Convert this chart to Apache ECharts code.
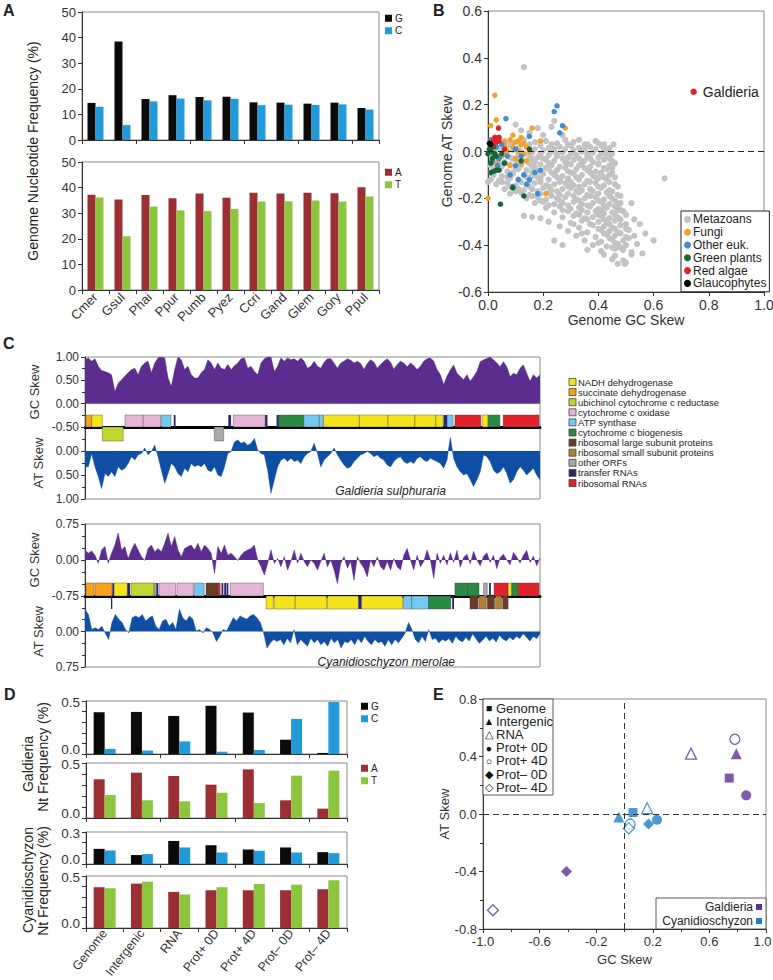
<!DOCTYPE html>
<html>
<head>
<meta charset="utf-8">
<script src="https://cdn.jsdelivr.net/npm/echarts@6/dist/echarts.min.js"></script>
<style>html,body{margin:0;padding:0;background:#fff}#chart{width:773px;height:980px}</style>
</head>
<body>
<div id="chart"></div>
<script>
// ---- A: genome nucleotide frequency (%)
var speciesA = ['Cmer', 'Gsul', 'Phai', 'Ppur', 'Pumb', 'Pyez', 'Ccri', 'Gand', 'Glem', 'Gory', 'Ppul']
var freqG = [14.5, 38.5, 16, 17.5, 16.8, 16.9, 14.7, 14.6, 14.2, 14.6, 12.5]
var freqC = [13, 5.8, 15.1, 16.2, 15.5, 16.1, 13.6, 13.8, 13.7, 13.9, 11.9]
var freqA = [37.2, 35.4, 37.1, 35.8, 37.7, 36, 38, 37.7, 38, 37.8, 40.1]
var freqT = [36.1, 21, 32.6, 31.1, 30.8, 31.7, 34.6, 34.7, 35, 34.6, 36.5]
var ticksA = [0, 50, 10]

// ---- B: genome GC skew vs AT skew
var metazoans = [
  [0.06,0.045],[0.09,0.035],[0.13,0.05],[0.17,0.04],[0.21,0.045],[0.25,0.035],[0.28,0.05],[0.31,0.04],[0.35,0.03],[0.39,0.045],
  [0.03,0.02],[0.07,0.025],[0.11,0.015],[0.14,0.02],[0.19,0.025],[0.22,0.015],[0.26,0.02],[0.30,0.025],[0.33,0.015],[0.37,0.02],[0.41,0.025],[0.44,0.015],
  [0.02,0.0],[0.05,-0.005],[0.09,0.005],[0.12,0.0],[0.16,-0.005],[0.20,0.005],[0.23,0.0],[0.27,-0.005],[0.31,0.005],[0.34,0.0],[0.38,-0.005],[0.42,0.005],[0.45,-0.01],
  [0.04,-0.02],[0.08,-0.025],[0.11,-0.015],[0.15,-0.02],[0.18,-0.025],[0.22,-0.015],[0.25,-0.02],[0.29,-0.025],[0.32,-0.015],[0.36,-0.02],[0.40,-0.025],[0.43,-0.015],
  [0.02,-0.04],[0.06,-0.045],[0.10,-0.035],[0.13,-0.04],[0.17,-0.045],[0.21,-0.035],[0.24,-0.04],[0.28,-0.045],[0.31,-0.035],[0.35,-0.04],[0.38,-0.045],[0.42,-0.035],[0.45,-0.04],
  [0.01,-0.06],[0.05,-0.065],[0.08,-0.055],[0.12,-0.06],[0.16,-0.065],[0.19,-0.055],[0.23,-0.06],[0.26,-0.065],[0.30,-0.055],[0.33,-0.06],[0.37,-0.065],[0.40,-0.055],[0.44,-0.06],
  [0.03,-0.08],[0.07,-0.085],[0.11,-0.075],[0.14,-0.08],[0.18,-0.085],[0.22,-0.075],[0.25,-0.08],[0.29,-0.085],[0.32,-0.075],[0.36,-0.08],[0.39,-0.085],[0.43,-0.075],
  [0.02,-0.10],[0.05,-0.105],[0.09,-0.095],[0.13,-0.10],[0.16,-0.105],[0.20,-0.095],[0.24,-0.10],[0.27,-0.105],[0.31,-0.095],[0.34,-0.10],[0.38,-0.105],[0.41,-0.095],[0.44,-0.10],
  [0.01,-0.12],[0.04,-0.125],[0.08,-0.115],[0.11,-0.12],[0.15,-0.125],[0.19,-0.115],[0.22,-0.12],[0.26,-0.125],[0.29,-0.115],[0.33,-0.12],[0.36,-0.125],[0.40,-0.115],[0.43,-0.12],
  [0.03,-0.14],[0.07,-0.135],[0.10,-0.145],[0.14,-0.14],[0.17,-0.135],[0.21,-0.145],[0.24,-0.14],[0.28,-0.135],[0.31,-0.145],[0.35,-0.14],[0.39,-0.135],[0.42,-0.145],[0.46,-0.14],
  [0.06,-0.16],[0.09,-0.155],[0.13,-0.165],[0.16,-0.16],[0.20,-0.155],[0.23,-0.165],[0.27,-0.16],[0.30,-0.155],[0.34,-0.165],[0.37,-0.16],[0.41,-0.155],[0.44,-0.165],
  [0.08,-0.18],[0.12,-0.175],[0.15,-0.185],[0.19,-0.18],[0.22,-0.175],[0.26,-0.185],[0.29,-0.18],[0.33,-0.175],[0.36,-0.185],[0.40,-0.18],[0.43,-0.175],[0.47,-0.185],
  [0.14,-0.20],[0.18,-0.195],[0.21,-0.205],[0.25,-0.20],[0.28,-0.195],[0.32,-0.205],[0.35,-0.20],[0.39,-0.195],[0.42,-0.205],[0.45,-0.20],
  [0.17,-0.22],[0.20,-0.215],[0.24,-0.225],[0.27,-0.22],[0.31,-0.215],[0.34,-0.225],[0.38,-0.22],[0.41,-0.215],[0.44,-0.225],[0.48,-0.22],
  [0.21,-0.24],[0.26,-0.235],[0.30,-0.245],[0.33,-0.24],[0.37,-0.235],[0.40,-0.245],[0.43,-0.24],[0.46,-0.235],
  [0.24,-0.26],[0.29,-0.255],[0.32,-0.265],[0.36,-0.26],[0.39,-0.255],[0.42,-0.265],[0.45,-0.26],[0.49,-0.255],
  [0.13,-0.275],[0.16,-0.28],[0.19,-0.285],[0.27,-0.28],[0.31,-0.275],[0.35,-0.285],[0.38,-0.28],[0.41,-0.275],[0.44,-0.285],[0.47,-0.28],
  [0.22,-0.30],[0.30,-0.305],[0.34,-0.295],[0.40,-0.30],[0.43,-0.305],[0.46,-0.295],[0.50,-0.31],
  [0.26,-0.32],[0.33,-0.325],[0.38,-0.315],[0.42,-0.32],[0.45,-0.325],[0.48,-0.315],
  [0.29,-0.34],[0.36,-0.345],[0.41,-0.335],[0.44,-0.34],[0.47,-0.345],[0.51,-0.335],[0.57,-0.35],
  [0.32,-0.36],[0.39,-0.365],[0.43,-0.355],[0.46,-0.36],[0.50,-0.365],[0.53,-0.36],
  [0.24,-0.38],[0.35,-0.38],[0.41,-0.385],[0.45,-0.375],[0.49,-0.38],[0.60,-0.38],
  [0.27,-0.40],[0.38,-0.40],[0.43,-0.405],[0.47,-0.395],[0.50,-0.40],[0.54,-0.395],
  [0.36,-0.42],[0.41,-0.425],[0.46,-0.415],[0.49,-0.42],[0.52,-0.43],
  [0.42,-0.44],[0.46,-0.445],[0.52,-0.44],[0.56,-0.435],
  [0.45,-0.46],[0.49,-0.465],[0.50,-0.475],[0.47,-0.48],[0.495,-0.48],
  [0.13,0.36],[0.12,0.09],[0.10,0.115],[0.18,0.10],[0.23,0.105],[0.24,0.13],[0.20,0.07],[0.27,0.07],[0.15,0.08],[0.33,0.05],
  [0.40,0.035],[0.455,0.03],[0.64,-0.115],[0.52,-0.22],[0.55,-0.31],[0.50,-0.27],[0.48,-0.25],[0.53,-0.29],[0.11,-0.16],[0.05,-0.13],
  [0.0,-0.13],[0.02,-0.08],
  [0.08,0.03],[0.15,0.03],[0.23,0.03],[0.29,0.03],[0.36,0.03],[0.42,0.03],
  [0.04,0.01],[0.10,0.01],[0.17,0.01],[0.24,0.01],[0.28,0.01],[0.35,0.01],[0.39,0.01],[0.43,0.01],
  [0.06,-0.01],[0.13,-0.01],[0.19,-0.01],[0.25,-0.01],[0.30,-0.01],[0.36,-0.01],[0.41,-0.01],[0.44,-0.01],
  [0.03,-0.03],[0.09,-0.03],[0.16,-0.03],[0.20,-0.03],[0.27,-0.03],[0.33,-0.03],[0.37,-0.03],[0.44,-0.03],
  [0.04,-0.05],[0.11,-0.05],[0.15,-0.05],[0.22,-0.05],[0.29,-0.05],[0.34,-0.05],[0.40,-0.05],[0.46,-0.05],
  [0.03,-0.07],[0.10,-0.07],[0.17,-0.07],[0.21,-0.07],[0.28,-0.07],[0.35,-0.07],[0.42,-0.07],[0.45,-0.07],
  [0.01,-0.09],[0.09,-0.09],[0.16,-0.09],[0.23,-0.09],[0.30,-0.09],[0.37,-0.09],[0.41,-0.09],[0.45,-0.09],
  [0.07,-0.11],[0.14,-0.11],[0.18,-0.11],[0.25,-0.11],[0.32,-0.11],[0.39,-0.11],[0.42,-0.11],[0.46,-0.11],
  [0.05,-0.13],[0.12,-0.13],[0.19,-0.13],[0.26,-0.13],[0.30,-0.13],[0.37,-0.13],[0.44,-0.13],
  [0.08,-0.15],[0.15,-0.15],[0.22,-0.15],[0.29,-0.15],[0.33,-0.15],[0.40,-0.15],[0.47,-0.15],
  [0.10,-0.17],[0.18,-0.17],[0.25,-0.17],[0.32,-0.17],[0.38,-0.17],[0.45,-0.17],
  [0.16,-0.19],[0.23,-0.19],[0.31,-0.19],[0.37,-0.19],[0.44,-0.19],[0.48,-0.19],
  [0.19,-0.21],[0.26,-0.21],[0.33,-0.21],[0.40,-0.21],[0.46,-0.21],
  [0.22,-0.23],[0.29,-0.23],[0.36,-0.23],[0.42,-0.23],[0.47,-0.23],
  [0.27,-0.25],[0.34,-0.25],[0.41,-0.25],[0.47,-0.25],
  [0.33,-0.27],[0.40,-0.27],[0.46,-0.27],
  [0.36,-0.29],[0.42,-0.29],[0.48,-0.29],
  [0.31,-0.31],[0.37,-0.31],[0.44,-0.31],
  [0.40,-0.33],[0.46,-0.33],[0.50,-0.33],
  [0.34,-0.35],[0.42,-0.35],[0.48,-0.35],
  [0.44,-0.37],[0.51,-0.37],[0.40,-0.39],[0.46,-0.39],[0.45,-0.41],[0.48,-0.41]
]
var fungi = [
  [0.025,0.24],[0.03,0.135],[0.01,0.11],[0.16,0.10],[0.28,0.10],[0.19,0.045],[0.21,-0.18],[0.0,-0.20],
  [0.06,0.04],[0.08,0.05],[0.10,0.04],[0.12,0.03],[0.14,0.02],[0.11,0.0],[0.09,0.02],[0.13,-0.01],[0.07,0.0],
  [0.15,0.0],[0.05,-0.02],[0.10,-0.03],[0.12,-0.05],[0.14,-0.04],[0.08,-0.06],[0.06,0.02],[0.04,0.06],[0.02,0.0],
  [0.03,-0.05],[0.12,0.06],[0.09,0.07],[0.11,0.045],[0.13,0.035]
]
var otherEuk = [
  [0.25,0.195],[0.24,0.17],[0.27,0.11],[0.26,0.08],[0.065,0.14],[0.15,0.065],[0.19,-0.08],[0.17,-0.09],[0.15,-0.12],
  [0.14,-0.14],[0.13,-0.10],[0.11,-0.12],[0.10,-0.06],[0.09,-0.15],[0.18,-0.18],[0.06,-0.05],[0.04,-0.03],[0.02,-0.02],
  [0.01,0.05],[0.03,0.02],[0.05,0.03],[0.07,-0.02],[0.12,-0.02],[0.10,0.01],[0.08,-0.10],[0.035,-0.06],[0.015,-0.04]
]
var greenPlants = [
  [0.045,-0.225],[0.09,-0.155],[0.13,-0.19],[0.12,-0.04],[0.15,0.01],[0.06,-0.05],[0.01,-0.09],[0.02,-0.085],[0.03,-0.08],
  [0.04,-0.08],[0.0,-0.01],[0.01,0.0],[0.02,0.02],[0.03,-0.02],[0.015,-0.03],[0.005,0.01],[0.025,-0.01],[0.01,-0.05],[0.05,-0.01]
]
var redAlgae = [
  [0.745,0.255],[0.02,0.05],[0.025,0.06],[0.03,0.055],[0.035,0.05],[0.04,0.06],[0.03,0.04],[0.02,0.04],[0.04,0.045],
  [0.038,0.10],[0.06,0.01],[0.015,0.03]
]
var glaucophytes = [[0.01,0.03],[0.005,0.035]]

// ---- C: sliding window skews along the mitochondrial genomes
var galGC = [
  0.94,0.98,0.91,0.96,0.80,0.71,0.69,0.66,0.62,0.26, 0.44,0.51,0.59,0.66,0.73,0.76,0.62,0.80,0.87,0.91,
  0.66,0.87,0.98,1.0,0.98,0.55,0.37,0.73,1.0,0.94, 0.73,0.80,0.62,0.55,0.55,0.66,0.73,0.94,0.87,0.73,
  0.87,0.76,0.73,0.84,0.73,0.81,0.87,0.96,0.98,0.76, 0.80,0.69,0.62,0.87,0.96,1.0,1.0,0.69,0.80,0.98,
  0.91,0.98,0.94,0.96,0.91,0.98,0.91,0.76,0.80,0.91, 0.80,0.76,0.89,0.96,0.96,0.87,0.76,0.87,0.91,0.96,
  0.93,0.87,0.91,0.86,0.73,0.86,0.94,0.89,0.76,0.84, 0.91,0.96,0.89,0.74,0.84,0.91,0.87,0.79,0.87,0.81,
  0.73,0.80,0.91,0.96,0.98,0.91,0.73,0.62,0.41,0.59, 0.72,0.83,0.65,0.58,0.51,0.62,0.48,0.58,0.69,0.90,
  0.94,0.97,1.0,0.94,0.87,0.79,0.90,0.79,0.58,0.65, 0.62,0.76,0.83,0.65,0.48,0.62,0.55,0.62
]
var galAT = [
  0.33,0.33,0.05,0.33,0.53,0.78,0.47,0.53,0.43,0.53, 0.33,0.40,0.36,0.26,0.12,0.19,0.08,0.05,-0.06,0.08,
  0.01,-0.12,0.12,0.40,0.67,0.47,0.26,0.33,0.47,0.53, 0.36,0.43,0.26,0.33,0.29,0.33,0.26,0.40,0.43,0.33,
  0.50,0.53,0.33,0.05,0.01,-0.19,-0.23,-0.16,-0.19,-0.12, -0.16,-0.26,-0.02,0.05,0.08,0.40,0.88,0.60,0.33,0.19,
  0.15,0.22,0.15,0.22,0.19,0.26,0.12,0.05,0.01,-0.16, 0.05,0.33,0.19,0.12,0.05,-0.06,0.08,0.19,0.29,0.36,
  0.33,0.22,0.15,0.08,0.05,0.01,0.05,0.12,0.08,0.15, 0.19,0.29,0.33,0.22,0.15,0.12,0.22,0.26,0.22,0.26,
  0.15,0.12,0.19,0.22,0.15,0.19,0.22,0.26,0.36,0.19, -0.28,0.15,0.33,0.43,0.50,0.47,0.60,0.74,0.60,0.43,
  0.08,0.12,0.22,0.40,0.47,0.43,0.33,0.47,0.67,0.60, 0.43,0.33,0.40,0.50,0.43,0.36,0.50,0.60
]
var cyaGC = [
  0.21,0.14,0.19,0.10,-0.07,0.21,0.28,-0.07,0.14,0.31, 0.56,0.21,0.28,0.03,0.21,0.35,0.21,0.07,-0.01,0.24,
  0.31,0.17,0.24,0.17,0.35,0.56,0.28,0.49,0.21,0.07, 0.24,0.28,0.31,0.21,0.35,0.17,0.31,0.24,0.14,-0.28,
  0.28,0.14,0.31,0.10,0.14,0.07,-0.01,0.10,0.17,0.21, 0.24,0.31,0.0,-0.14,-0.31,-0.07,0.21,-0.07,0.03,-0.14,
  0.07,-0.21,-0.03,0.21,-0.07,0.14,-0.03,-0.14,0.0,-0.07, -0.21,-0.03,0.14,-0.14,0.0,-0.21,-0.49,-0.07,0.07,-0.17,
  -0.03,-0.42,0.07,-0.07,-0.17,-0.35,0.0,-0.14,0.07,-0.14, -0.21,-0.03,-0.21,0.03,-0.14,-0.21,0.10,0.24,0.0,-0.21,
  0.10,-0.14,-0.03,0.21,0.0,-0.38,0.14,-0.07,0.10,-0.10, 0.15,-0.05,0.20,-0.15,0.05,0.12,-0.08,0.18,0.0,-0.12,
  0.08,0.15,-0.05,0.10,-0.18,0.05,0.12,0.0,-0.10,0.16, 0.06,-0.06,0.10,0.20,-0.05,0.08,-0.12,0.04
]
var cyaAT = [
  -0.47,-0.36,-0.04,-0.08,-0.04,-0.11,0.03,0.17,-0.19,-0.36, -0.26,-0.19,-0.04,0.03,-0.29,-0.33,-0.29,-0.36,-0.22,-0.29,
  -0.33,-0.11,-0.04,-0.22,-0.26,-0.11,-0.19,-0.04,-0.47,-0.29, -0.22,-0.33,-0.26,-0.01,-0.04,0.03,-0.08,-0.04,0.03,0.21,
  0.10,-0.04,-0.01,-0.15,-0.29,-0.22,-0.33,-0.29,-0.26,-0.33, -0.36,-0.29,-0.19,0.03,0.35,0.24,0.17,0.21,0.17,0.28,
  0.14,0.24,-0.04,0.28,0.17,0.24,0.31,0.14,0.24,0.17, 0.28,0.21,0.31,0.14,0.24,0.17,0.35,0.21,0.24,0.17,
  0.28,0.14,0.24,0.10,0.21,0.28,0.17,0.24,0.21,0.31, 0.17,0.28,0.17,0.24,0.14,0.03,-0.19,-0.04,0.17,0.24,
  0.10,0.21,-0.04,0.17,0.14,0.24,0.17,0.20,0.15,0.25, 0.10,0.18,0.22,0.12,0.20,0.05,0.15,0.25,0.18,0.10,
  0.20,0.14,0.22,0.08,0.16,0.20,0.12,0.18,0.10,0.15, 0.05,0.12,0.20,0.10,0.15,0.05
]
var geneTypes = ['NADH dehydrogenase', 'succinate dehydrogenase', 'ubichinol cytochrome c reductase',
  'cytochrome c oxidase', 'ATP synthase', 'cytochrome c biogenesis', 'ribosomal large subunit proteins',
  'ribosomal small subunit proteins', 'other ORFs', 'transfer RNAs', 'ribosomal RNAs']
// [start %, end %, strand, gene type]
var galGenes = [
  [0.15,1.47,1,1],[1.47,3.8,1,0],[3.8,8.4,-1,2],[8.8,12.8,1,3],[12.8,16.6,1,3],[16.8,18.9,1,4],[19.5,19.9,1,9],
  [28.4,30.5,-1,8],[31.5,32.1,1,9],[32.6,39.6,1,3],[39.6,40.1,1,9],[42.1,42.6,1,9],[42.6,48.1,1,5],[48.1,51.5,1,4],
  [51.5,52.4,1,4],[52.4,60.3,1,0],[60.3,66.6,1,0],[66.6,72.5,1,0],[72.5,77.1,1,0],[77.1,78.7,1,0],[78.8,79.6,1,9],
  [79.6,80.9,1,4],[81.3,87.0,1,10],[87.3,88.6,1,0],[88.6,91.2,1,5],[91.9,99.8,1,10]
]
var cyaGenes = [
  [0.2,2.0,1,1],[2.2,5.9,1,1],[6.0,6.4,1,9],[6.4,9.3,1,0],[9.3,9.9,1,9],[10.1,15.2,1,2],[15.2,15.7,1,8],[15.7,16.1,1,9],
  [16.3,19.9,1,3],[20.2,23.8,1,3],[24.0,26.2,1,4],[26.6,29.3,1,6],[29.3,29.7,1,10],[30.0,30.4,1,9],[30.6,31.0,1,9],
  [31.1,31.5,1,9],[31.9,39.2,1,3],
  [5.7,6.0,-1,9],[39.8,41.4,-1,0],[41.6,46.2,-1,0],[46.2,53.1,-1,0],[53.3,60.1,-1,0],[60.1,60.8,-1,9],[60.8,69.8,-1,0],
  [70.0,71.8,-1,4],[71.8,75.5,-1,4],[75.5,80.4,-1,5],[80.7,81.1,-1,9],
  [81.3,84.2,1,5],[84.2,86.6,1,5],[87.6,88.4,1,8],[88.8,89.2,1,9],[84.6,86.4,-1,6],[86.6,88.2,-1,7],[88.4,90.0,-1,6],
  [90.2,91.6,-1,7],[91.8,93.0,-1,6],[89.9,93.0,1,10],[93.0,93.8,1,0],[93.8,95.2,1,5],[95.2,99.8,1,10]
]

// ---- D: strand specific nucleotide frequencies
var ntCats = ['Genome', 'Intergenic', 'RNA', 'Prot+ 0D', 'Prot+ 4D', 'Prot\u2013 0D', 'Prot\u2013 4D']
var galG = [0.394, 0.397, 0.359, 0.455, 0.391, 0.135, 0.01]
var galC = [0.048, 0.032, 0.119, 0.022, 0.038, 0.33, 0.49]
var galA = [0.352, 0.412, 0.382, 0.303, 0.442, 0.161, 0.085]
var galT = [0.209, 0.161, 0.152, 0.230, 0.136, 0.385, 0.430]
var cyaG = [0.142, 0.084, 0.216, 0.176, 0.136, 0.155, 0.111]
var cyaC = [0.127, 0.093, 0.155, 0.108, 0.124, 0.108, 0.102]
var cyaA = [0.392, 0.427, 0.347, 0.363, 0.363, 0.363, 0.373]
var cyaT = [0.382, 0.446, 0.322, 0.392, 0.424, 0.417, 0.459]

// ---- E: GC skew vs AT skew per compartment, same order as ntCats
var galSkew = [[0.74,0.25],[0.79,0.42],[0.47,0.42],[0.86,0.13],[0.78,0.52],[-0.41,-0.40],[-0.93,-0.67]]
var cyaSkew = [[0.06,0.01],[-0.04,-0.02],[0.16,0.04],[0.23,-0.04],[0.04,-0.07],[0.17,-0.07],[0.03,-0.10]]

var FONT = 'Liberation Sans'
var AX = '#333'
var colG = '#0a0a0a', colC = '#2299d8', colA = '#9c2f33', colT = '#8cc63f'
var PURPLE = '#5b2d8e', ATBLUE = '#0f4fa3'
var colGal = '#5c3196', colCya = '#1c7fc3'
var geneColors = ['#f4e41c', '#f7a21b', '#c1d62f', '#e4b5d6', '#75c7ef', '#2a8a44', '#6b3d27', '#b0803a', '#a8a8a8', '#27286e', '#e2232b']

function merge (a, b) {
  var o = {}
  Object.keys(a).forEach(function (k) { o[k] = a[k] })
  Object.keys(b || {}).forEach(function (k) {
    if (o[k] && typeof o[k] === 'object' && !Array.isArray(o[k]) && typeof b[k] === 'object') o[k] = merge(o[k], b[k])
    else o[k] = b[k]
  })
  return o
}
function valAxis (gi, extra) {
  return merge({
    type: 'value', gridIndex: gi,
    axisLine: {show: true, onZero: false, lineStyle: {color: AX}},
    axisTick: {show: true, length: 4, lineStyle: {color: AX}},
    splitLine: {show: false},
    axisLabel: {color: '#333', fontSize: 13, fontFamily: FONT, margin: 6}
  }, extra)
}
function catAxis (gi, data, extra) {
  return merge({
    type: 'category', gridIndex: gi, data: data,
    axisLine: {show: true, onZero: false, lineStyle: {color: AX}},
    axisTick: {show: true, length: 4, alignWithLabel: false, lineStyle: {color: AX}},
    axisLabel: {show: false},
    splitLine: {show: false}
  }, extra)
}
function hiddenCat (gi, n) {
  var d = []
  for (var i = 0; i < n; i++) d.push(i)
  return {type: 'category', gridIndex: gi, data: d, show: false, boundaryGap: false, position: 'top'}
}
function fix (n) { return function (v) { return v.toFixed(n) } }
// D axes: only the end values are labelled, the lower one nudged up a little
function endLabels (hi) {
  return {
    fontSize: 13,
    formatter: function (v) {
      if (Math.abs(v) < 1e-6) return '{lo|0.0}'
      if (Math.abs(v - hi) < 1e-6) return '{hi|' + hi.toFixed(1) + '}'
      return ''
    },
    rich: {lo: {fontSize: 13.5, color: '#333', lineHeight: 12, padding: [0, 0, 10, 0]},
      hi: {fontSize: 13.5, color: '#333', lineHeight: 12, padding: [3, 0, 0, 0]}}
  }
}
function bar (name, xi, yi, data, color, w) {
  return {type: 'bar', name: name, xAxisIndex: xi, yAxisIndex: yi, data: data, barWidth: w, barGap: '0%',
    itemStyle: {color: color}, silent: true}
}
function area (xi, yi, data, color) {
  return {type: 'line', xAxisIndex: xi, yAxisIndex: yi, data: data, symbol: 'none', silent: true,
    lineStyle: {width: 0.5, color: color}, areaStyle: {color: color, opacity: 1}}
}
function geneSeries (xi, yi, genes, yBase, hUp, hDown) {
  return {
    type: 'custom', xAxisIndex: xi, yAxisIndex: yi, data: genes, clip: false, silent: true, z: 5,
    encode: {x: [0, 1], y: 2},
    renderItem: function (params, api) {
      var a = api.coord([api.value(0), yBase])
      var b = api.coord([api.value(1), yBase])
      var t = api.value(3)
      var up = api.value(2) > 0
      return {
        type: 'rect',
        shape: {x: a[0], y: up ? a[1] - hUp : a[1], width: Math.max(b[0] - a[0], 1.2), height: up ? hUp : hDown},
        style: {fill: geneColors[t], stroke: t === 9 ? null : 'rgba(50,50,50,0.6)', lineWidth: 0.6}
      }
    }
  }
}
function scat (name, data, color, size) {
  return {type: 'scatter', name: name, xAxisIndex: 2, yAxisIndex: 2, data: data, symbolSize: size || 5.5,
    itemStyle: {color: color, opacity: 1}, silent: true}
}
function txt (x, y, s, o) {
  o = o || {}
  return {
    type: 'text', x: x, y: y, rotation: o.rot || 0, silent: true, z: 100,
    style: {
      text: s, fill: o.color || '#222', fontSize: o.size || 13, fontFamily: FONT,
      fontWeight: o.bold ? 'bold' : 'normal', fontStyle: o.italic ? 'italic' : 'normal',
      align: o.align || 'left', textAlign: o.align || 'left',
      verticalAlign: o.valign || 'middle', textVerticalAlign: o.valign || 'middle'
    }
  }
}
function box (x, y, w, h, fill, stroke) {
  return {type: 'rect', silent: true, z: 99, shape: {x: x, y: y, width: w, height: h},
    style: {fill: fill, stroke: stroke || null, lineWidth: stroke ? 0.8 : 0}}
}
function smallLegend (data, left, top) {
  return {data: data, left: left, top: top, orient: 'vertical', icon: 'rect', itemWidth: 7, itemHeight: 7,
    itemGap: 0, padding: 0, selectedMode: false,
    textStyle: {fontSize: 10, color: '#222', fontFamily: FONT, lineHeight: 12.5, padding: [0, 0, 0, -2]}}
}

var eSymbols = ['rect', 'triangle', 'triangle', 'circle', 'circle', 'diamond', 'diamond']
var eSizes = [9, 11, 11, 10, 10, 11, 11]
var eHollow = [false, false, true, false, true, false, true]
var eGlyphs = ['\u25a0', '\u25b2', '\u25b3', '\u25cf', '\u25cb', '\u25c6', '\u25c7']

var series = [
  bar('G', 0, 0, freqG, colG, 8), bar('C', 0, 0, freqC, colC, 8),
  bar('A', 1, 1, freqA, colA, 8), bar('T', 1, 1, freqT, colT, 8),
  merge(scat('Metazoans', metazoans, '#c3c3c3', 6.2), {markLine: {silent: true, symbol: 'none', label: {show: false},
    lineStyle: {type: [6, 4], color: '#222', width: 1}, data: [{yAxis: 0}]}}),
  scat('Fungi', fungi, '#f5a02c'),
  scat('Other euk.', otherEuk, '#3d8fd3'),
  scat('Green plants', greenPlants, '#17663a'),
  scat('Red algae', redAlgae.map(function (p, i) {
    return i === 0 ? {value: p, symbolSize: 6.5, label: {show: true, position: 'right', distance: 6, formatter: 'Galdieria',
      fontSize: 14, color: '#222', fontFamily: FONT}} : p
  }), '#e3202a'),
  scat('Glaucophytes', glaucophytes, '#000'),
  area(3, 3, galGC, PURPLE), geneSeries(4, 3, galGenes, -0.5, 12, 14), area(5, 4, galAT, ATBLUE),
  area(6, 5, cyaGC, PURPLE), geneSeries(7, 5, cyaGenes, -0.75, 13, 13), area(8, 6, cyaAT, ATBLUE),
  bar('G', 9, 7, galG, colG, 11), bar('C', 9, 7, galC, colC, 11),
  bar('A', 10, 8, galA, colA, 11), bar('T', 10, 8, galT, colT, 11),
  bar('G', 11, 9, cyaG, colG, 11), bar('C', 11, 9, cyaC, colC, 11),
  bar('A', 12, 10, cyaA, colA, 11), bar('T', 12, 10, cyaT, colT, 11)
]
;[[galSkew, colGal, 'Galdieria'], [cyaSkew, colCya, 'Cyanidioschyzon']].forEach(function (org, oi) {
  org[0].forEach(function (p, i) {
    var s = {
      type: 'scatter', name: org[2] + ' ' + ntCats[i], xAxisIndex: 13, yAxisIndex: 11, data: [p], silent: true,
      symbol: eSymbols[i], symbolSize: eSizes[i], z: 4,
      itemStyle: eHollow[i] ? {color: '#fff', borderColor: org[1], borderWidth: 1.3} : {color: org[1]}
    }
    if (oi === 0 && i === 0) {
      s.markLine = {silent: true, symbol: 'none', label: {show: false},
        lineStyle: {type: [6, 4], color: '#333', width: 1}, data: [{xAxis: 0}, {yAxis: 0}]}
    }
    series.push(s)
  })
})

var graphic = [
  txt(3, 10, 'A', {bold: true, size: 16}), txt(433, 10, 'B', {bold: true, size: 16}),
  txt(3, 343, 'C', {bold: true, size: 16}), txt(4, 694, 'D', {bold: true, size: 16}),
  txt(433, 694, 'E', {bold: true, size: 16}),
  txt(33, 151, 'Genome Nucleotide Frequency (%)', {rot: Math.PI / 2, align: 'center', size: 14}),
  txt(28, 764, 'Galdieria', {rot: Math.PI / 2, align: 'center', size: 14}),
  txt(43, 757, 'Nt Frequency (%)', {rot: Math.PI / 2, align: 'center', size: 14}),
  txt(28, 880, 'Cyanidioschyzon', {rot: Math.PI / 2, align: 'center', size: 14}),
  txt(43, 881, 'Nt Frequency (%)', {rot: Math.PI / 2, align: 'center', size: 14}),
  txt(446, 491, 'Galdieria sulphuraria', {italic: true, align: 'right', size: 12}),
  txt(455, 662, 'Cyanidioschyzon merolae', {italic: true, align: 'right', size: 12}),
  box(483, 699, 70, 96, '#fff', '#333'),
  box(656, 898, 110, 31, '#fff', '#333'),
  txt(753, 907, 'Galdieria', {align: 'right', size: 12}), box(756, 904, 6, 6, colGal),
  txt(753, 921, 'Cyanidioschyzon', {align: 'right', size: 12}), box(756, 918, 6, 6, colCya)
]
geneTypes.forEach(function (g, i) {
  var y = 382 + i * 10.1
  graphic.push(box(569, y - 3.5, 7, 7, geneColors[i], '#444'))
  graphic.push(txt(578, y, g, {size: 9.5}))
})
ntCats.forEach(function (c, i) {
  var y = 708 + i * 13.2
  graphic.push(txt(489, y, eGlyphs[i], {align: 'center', size: 10.5, color: '#111'}))
  graphic.push(txt(496, y, c, {size: 13}))
})

var grids = [
  [82, 12, 297, 128], [82, 162, 297, 128], [488, 11, 276, 281],
  [85, 357, 455, 70], [85, 427, 455, 72], [85, 524, 455, 72], [85, 596, 455, 71],
  [86, 701, 261, 53], [86, 763, 261, 55], [86, 832, 261, 32], [86, 876, 261, 52],
  [483, 699, 283, 230]
].map(function (g) {
  return {left: g[0], top: g[1], width: g[2], height: g[3], show: true, borderColor: '#8a8a8a', borderWidth: 1,
    containLabel: false, outerBoundsMode: 'none'}
})

var geneLine = {type: 'value', min: 0, max: 100, position: 'bottom', axisLine: {show: true, onZero: false, lineStyle: {color: '#000', width: 3}},
  axisTick: {show: false}, axisLabel: {show: false}, splitLine: {show: false}}
var minorC = function (n) { return {show: true, splitNumber: n, length: 3, lineStyle: {color: AX}} }

var option = {
  animation: false,
  backgroundColor: '#fff',
  textStyle: {fontFamily: FONT},
  grid: grids,
  legend: [
    smallLegend(['G', 'C'], 385, 12),
    smallLegend(['A', 'T'], 385, 166),
    smallLegend(['G', 'C'], 361, 700),
    smallLegend(['A', 'T'], 361, 762),
    {data: ['Metazoans', 'Fungi', 'Other euk.', 'Green plants', 'Red algae', 'Glaucophytes'], left: 681, top: 211,
      orient: 'vertical', icon: 'circle', itemWidth: 7, itemHeight: 7, itemGap: 0, padding: [2, 3, 2, 3],
      borderColor: '#222', borderWidth: 1, backgroundColor: '#fff', selectedMode: false,
      textStyle: {fontSize: 12, color: '#222', fontFamily: FONT, lineHeight: 12.8, padding: [0, 0, 0, -3]}}
  ],
  xAxis: [
    catAxis(0, speciesA),
    catAxis(1, speciesA, {axisLabel: {show: true, rotate: 45, fontSize: 13, color: '#333', fontFamily: FONT, margin: 5, interval: 0}}),
    valAxis(2, {min: 0, max: 1, interval: 0.2, name: 'Genome GC Skew', nameLocation: 'middle', nameGap: 20,
      nameTextStyle: {fontSize: 14, color: '#333', fontFamily: FONT}, axisLabel: {fontSize: 14, formatter: fix(1)}}),
    hiddenCat(3, galGC.length), merge(geneLine, {gridIndex: 3}), hiddenCat(4, galAT.length),
    hiddenCat(5, cyaGC.length), merge(geneLine, {gridIndex: 5}), hiddenCat(6, cyaAT.length),
    catAxis(7, ntCats), catAxis(8, ntCats), catAxis(9, ntCats),
    catAxis(10, ntCats, {axisLabel: {show: true, rotate: 52, fontSize: 12.5, color: '#333', fontFamily: FONT, margin: 3, interval: 0}}),
    valAxis(11, {min: -1, max: 1, interval: 0.4, minorTick: minorC(2), name: 'GC Skew', nameLocation: 'middle', nameGap: 24,
      nameTextStyle: {fontSize: 13, color: '#333', fontFamily: FONT},
      axisLabel: {formatter: function (v) { return Math.abs(v - 1) < 1e-6 ? '{r|1.0}' : v.toFixed(1) },
        rich: {r: {fontSize: 13, color: '#333', padding: [0, 7, 0, 0]}}}})
  ],
  yAxis: [
    valAxis(0, {min: ticksA[0], max: ticksA[1], interval: ticksA[2]}),
    valAxis(1, {min: ticksA[0], max: ticksA[1], interval: ticksA[2]}),
    valAxis(2, {min: -0.6, max: 0.6, interval: 0.2, name: 'Genome AT Skew', nameLocation: 'middle', nameGap: 34,
      nameTextStyle: {fontSize: 14, color: '#333', fontFamily: FONT}, axisLabel: {fontSize: 14, formatter: fix(1)}}),
    valAxis(3, {min: -0.5, max: 1, interval: 0.5, minorTick: minorC(2), name: 'GC Skew', nameLocation: 'middle', nameGap: 38,
      nameTextStyle: {fontSize: 13, color: '#333', fontFamily: FONT}, axisLabel: {fontSize: 12, formatter: fix(2)}}),
    valAxis(4, {min: -0.5, max: 1, interval: 0.5, inverse: true, minorTick: minorC(2), name: 'AT Skew', nameLocation: 'middle', nameGap: 38,
      nameTextStyle: {fontSize: 13, color: '#333', fontFamily: FONT}, axisLabel: {fontSize: 12, formatter: fix(2), showMinLabel: false}}),
    valAxis(5, {min: -0.75, max: 0.75, interval: 0.75, minorTick: minorC(3), name: 'GC Skew', nameLocation: 'middle', nameGap: 38,
      nameTextStyle: {fontSize: 13, color: '#333', fontFamily: FONT}, axisLabel: {fontSize: 12, formatter: fix(2)}}),
    valAxis(6, {min: -0.75, max: 0.75, interval: 0.75, inverse: true, minorTick: minorC(3), name: 'AT Skew', nameLocation: 'middle', nameGap: 38,
      nameTextStyle: {fontSize: 13, color: '#333', fontFamily: FONT}, axisLabel: {fontSize: 12, formatter: fix(2), showMinLabel: false}}),
    valAxis(7, {min: 0, max: 0.5, interval: 0.1, axisLabel: endLabels(0.5)}),
    valAxis(8, {min: 0, max: 0.5, interval: 0.1, axisLabel: endLabels(0.5)}),
    valAxis(9, {min: 0, max: 0.3, interval: 0.1, axisLabel: endLabels(0.3)}),
    valAxis(10, {min: 0, max: 0.5, interval: 0.1, axisLabel: endLabels(0.5)}),
    valAxis(11, {min: -0.8, max: 0.8, interval: 0.4, minorTick: minorC(2), name: 'AT Skew', nameLocation: 'middle', nameGap: 30,
      nameTextStyle: {fontSize: 13, color: '#333', fontFamily: FONT}, axisLabel: {formatter: fix(1)}})
  ],
  series: series,
  graphic: {elements: graphic}
}

var chart = echarts.init(document.getElementById('chart'), null, {renderer: 'svg'})
chart.setOption(option)
</script>
</body>
</html>
